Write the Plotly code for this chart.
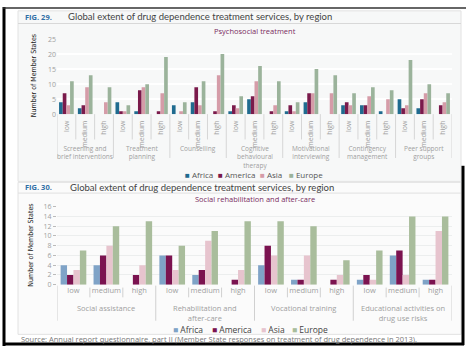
import plotly.graph_objects as go

# ---------------- data ----------------
regions = ["Africa", "America", "Asia", "Europe"]
levels = ["low", "medium", "high"]

psy_groups = ["Screening and<br>brief interventions", "Treatment<br>planning", "Counselling",
              "Cognitive<br>behavioural<br>therapy", "Motivational<br>interviewing",
              "Contingency<br>management", "Peer support<br>groups"]
psy_africa =  [4, 2, 0,  4, 1, 0,  3, 4, 0,  1, 5, 0,  1, 4, 0,  3, 3, 1,  5, 2, 0]
psy_america = [7, 3, 0,  1, 8, 1,  0, 9, 1,  3, 6, 1,  3, 7, 0,  4, 3, 0,  2, 5, 3]
psy_asia =    [3, 9, 4,  1, 9, 7,  1, 3, 13, 2, 11, 3, 1, 7, 7,  3, 6, 5,  3, 7, 4]
psy_europe =  [11, 13, 9, 3, 10, 19, 4, 11, 20, 6, 16, 11, 4, 15, 13, 7, 9, 8, 18, 10, 7]

soc_groups = ["Social assistance", "Rehabilitation and<br>after-care", "Vocational training",
              "Educational activities on<br>drug use risks"]
soc_africa =  [4, 4, 0,  6, 2, 0,  4, 1, 0,  1, 6, 1]
soc_america = [2, 6, 2,  6, 3, 1,  8, 1, 1,  2, 7, 1]
soc_asia =    [3, 8, 4,  3, 9, 3,  6, 6, 2,  1, 2, 11]
soc_europe =  [7, 12, 13, 8, 11, 13, 13, 12, 5, 7, 14, 14]

psy_colors = ["#1f6b8f", "#7a1a4b", "#d59ca8", "#9bb39b"]
soc_colors = ["#7fa3c7", "#7b1350", "#e7c4ce", "#a9bd9c"]

W, H = 468, 352
def px(x): return x / W
def py(y): return 1 - y / H

fig = go.Figure()

psy_vals = [psy_africa, psy_america, psy_asia, psy_europe]
soc_vals = [soc_africa, soc_america, soc_asia, soc_europe]
n_psy = len(psy_africa)
n_soc = len(soc_africa)
psy_x = list(range(n_psy))
soc_x = list(range(n_soc))
psy_ticks = [levels[i % 3] for i in range(n_psy)]
soc_ticks = [levels[i % 3] for i in range(n_soc)]

for r, vals, c in zip(regions, psy_vals, psy_colors):
    fig.add_trace(go.Bar(x=psy_x, y=vals, name=r, marker_color=c, marker_line_width=0,
                         xaxis="x", yaxis="y", offsetgroup=r, showlegend=False))
for r, vals, c in zip(regions, soc_vals, soc_colors):
    fig.add_trace(go.Bar(x=soc_x, y=vals, name=r, marker_color=c, marker_line_width=0,
                         xaxis="x2", yaxis="y2", offsetgroup=r + "2", showlegend=False))

FONT = "Open Sans"
NARROW = "DejaVu Sans Condensed, Liberation Sans Narrow, Arial Narrow, sans-serif"
tick_font = dict(family=FONT, size=7, color="#a0a0a0")

shapes = []
# frame and panels
shapes.append(dict(type="rect", xref="paper", yref="paper", x0=px(18), x1=px(461), y0=py(181), y1=py(6),
                   fillcolor="#f7f8f8", line=dict(color="#e2e2e2", width=1), layer="below"))
shapes.append(dict(type="rect", xref="paper", yref="paper", x0=px(18), x1=px(461), y0=py(338), y1=py(182),
                   fillcolor="#fbfbfb", line=dict(color="#e2e2e2", width=1), layer="below"))
shapes.append(dict(type="line", xref="paper", yref="paper", x0=px(18), x1=px(461), y0=py(19), y1=py(19),
                   line=dict(color="#d8d8d8", width=1)))
shapes.append(dict(type="line", xref="paper", yref="paper", x0=px(18), x1=px(461), y0=py(193), y1=py(193),
                   line=dict(color="#e0e0e0", width=1)))
# black border
shapes.append(dict(type="line", xref="paper", yref="paper", x0=px(4), x1=px(4), y0=py(2), y1=py(350),
                   line=dict(color="black", width=3)))
shapes.append(dict(type="line", xref="paper", yref="paper", x0=px(3), x1=px(464), y0=py(348), y1=py(348),
                   line=dict(color="black", width=3)))
shapes.append(dict(type="line", xref="paper", yref="paper", x0=px(3), x1=px(466), y0=py(3), y1=py(3),
                   line=dict(color="#333", width=1.5)))
shapes.append(dict(type="line", xref="paper", yref="paper", x0=px(463), x1=px(463), y0=py(165), y1=py(349),
                   line=dict(color="black", width=3)))

# dividers fig 29
for k in range(n_psy + 1):
    grp = (k % 3 == 0)
    shapes.append(dict(type="line", xref="x", yref="paper", x0=k - 0.5, x1=k - 0.5,
                       y0=py(112), y1=py(157 if grp else 138),
                       line=dict(color="#d6d6d6", width=1)))
# dividers fig 30
for k in range(n_soc + 1):
    grp = (k % 3 == 0)
    shapes.append(dict(type="line", xref="x2", yref="paper", x0=k - 0.5, x1=k - 0.5,
                       y0=py(288 if grp else 290), y1=py(324 if grp else 300),
                       line=dict(color="#d0d0d0", width=1)))

ann = []
def text(x, y, s, size, color, xanchor="left", angle=0, family=FONT, yanchor="middle"):
    ann.append(dict(x=x, y=y, xref="paper", yref="paper", text=s, showarrow=False, xanchor=xanchor,
                    yanchor=yanchor, textangle=angle, font=dict(family=family, size=size, color=color)))

text(px(23), py(12), "<b>FIG. 29.</b>", 7.5, "#2f6fa6")
text(px(66), py(12), "Global extent of drug dependence treatment services, by region", 9.5, "#444",
     family="Lato")
text(px(255), py(27), "Psychosocial treatment", 7.5, "#7a2d5f", xanchor="center")
text(px(34), py(73), "Number of Member States", 7, "#222", xanchor="center", angle=-90,
     family=NARROW)

text(px(23), py(187), "<b>FIG. 30.</b>", 7.5, "#2f6fa6")
text(px(68), py(187), "Global extent of drug dependence treatment services, by region", 9.5, "#444",
     family="Lato")
text(px(255), py(199), "Social rehabilitation and after-care", 7.5, "#7a2d5f", xanchor="center")
text(px(31), py(247), "Number of Member States", 7, "#222", xanchor="center", angle=-90,
     family=NARROW)

text(px(19), py(343), "Source: Annual report questionnaire, part II (Member State responses on treatment of drug dependence in 2013).",
     7.5, "#777")

# custom legends
for r, c, x in zip(regions, psy_colors, [183, 216, 258, 287]):
    text(px(x), py(174), f"<span style='color:{c}'>■</span> {r}", 8, "#555")
for r, c, x in zip(regions, soc_colors, [171, 210, 259, 290]):
    text(px(x), py(333), f"<span style='color:{c}'>■</span> {r}", 8.5, "#444")

for g, label in enumerate(psy_groups):
    ann.append(dict(x=g * 3 + 1, y=py(141), xref="x", yref="paper", text=label, showarrow=False,
                    xanchor="center", yanchor="top", font=dict(family=FONT, size=6.5, color="#a0a0a0")))
for g, label in enumerate(soc_groups):
    ann.append(dict(x=g * 3 + 1, y=py(304), xref="x2", yref="paper", text=label, showarrow=False,
                    xanchor="center", yanchor="top", font=dict(family=FONT, size=7.5, color="#a0a0a0")))

fig.update_layout(
    width=W, height=H, margin=dict(l=0, r=0, t=0, b=0),
    paper_bgcolor="white", plot_bgcolor="#dcdfe0",
    barmode="group", bargap=0.22, bargroupgap=0,
    showlegend=False,
    xaxis=dict(domain=[px(57), px(452)], anchor="y", range=[-0.5, n_psy - 0.5],
               tickmode="array", tickvals=psy_x, ticktext=psy_ticks, tickangle=-90,
               tickfont=tick_font, showgrid=False, zeroline=False, ticks="", ticklabelstandoff=4),
    yaxis=dict(domain=[py(112), py(35)], anchor="x", range=[0, 25], dtick=5,
               tickfont=tick_font, gridcolor="white", gridwidth=1.5, zeroline=False, ticks=""),
    xaxis2=dict(domain=[px(57), px(452)], anchor="y2", range=[-0.5, n_soc - 0.5],
                tickmode="array", tickvals=soc_x, ticktext=soc_ticks, tickangle=0,
                tickfont=dict(family=FONT, size=7.5, color="#a0a0a0"),
                showgrid=False, zeroline=False, ticks=""),
    yaxis2=dict(domain=[py(287), py(207)], anchor="x2", range=[0, 16], dtick=2,
                tickfont=tick_font, gridcolor="#eceeee", gridwidth=1, zeroline=False,
                ticks="outside", ticklen=3, tickcolor="#bbb"),
    shapes=shapes, annotations=ann,
)

fig.write_html("out.html")
